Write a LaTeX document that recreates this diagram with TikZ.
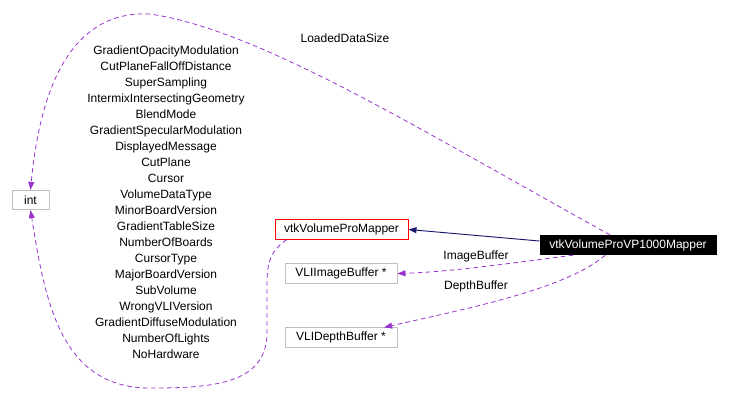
\documentclass[tikz,border=0pt]{standalone}
\usepackage{fontspec}
\setmainfont{Liberation Sans}
\usetikzlibrary{arrows.meta}
\definecolor{usepurple}{HTML}{9A32CD}
\definecolor{inhnavy}{HTML}{191970}
\definecolor{boxgray}{HTML}{BFBFBF}
\tikzset{
  cls/.style={draw=boxgray, line width=0.7pt, inner sep=0pt, minimum height=14.5pt,
    font=\fontsize{9}{11}\selectfont},
  refcls/.style={cls, draw=red},
  maincls/.style={cls, fill=black, draw=black, text=white},
  lbl/.style={font=\fontsize{9}{12}\selectfont, inner sep=0pt, align=center},
  usearrow/.style={-{Triangle[length=6pt,width=4.5pt]}, draw=usepurple,
    line width=0.6pt, dash pattern=on 3.5pt off 2.5pt},
  inharrow/.style={-{Triangle[length=6pt,width=4.5pt]}, draw=inhnavy,
    line width=0.7pt}
}
\begin{document}
\begin{tikzpicture}[x=0.75pt, y=-0.75pt]
  \useasboundingbox (0,0) rectangle (730,405);
  % classes
  \node[cls, minimum width=27.75pt] (int) at (30.5,200) {int};
  \node[refcls, minimum width=99.75pt] (pm) at (341.5,229.5) {vtkVolumeProMapper};
  \node[cls, minimum width=84pt] (img) at (341,273.5) {VLIImageBuffer *};
  \node[cls, minimum width=84pt] (dep) at (341,337.5) {VLIDepthBuffer *};
  \node[maincls, minimum width=132pt] (vp) at (628,245) {vtkVolumeProVP1000Mapper};

  % member labels
  \node[lbl] (attrs) at (166,202) {GradientOpacityModulation\\CutPlaneFallOffDistance\\
    SuperSampling\\IntermixIntersectingGeometry\\BlendMode\\GradientSpecularModulation\\
    DisplayedMessage\\CutPlane\\Cursor\\VolumeDataType\\MinorBoardVersion\\
    GradientTableSize\\NumberOfBoards\\CursorType\\MajorBoardVersion\\SubVolume\\
    WrongVLIVersion\\GradientDiffuseModulation\\NumberOfLights\\NoHardware};
  \node[lbl] (lds) at (345,38) {LoadedDataSize};
  \node[lbl] (imgl) at (476,256) {ImageBuffer};
  \node[lbl] (depl) at (476,286) {DepthBuffer};

  % edges
  \draw[inharrow] ([yshift=3pt]vp.west) -- (pm.east);
  \draw[usearrow] ([xshift=-13.5pt]vp.north) .. controls (420,130) and (260,30) .. (150,14)
    .. controls (70,10) and (40,90) .. (int.north);
  \draw[usearrow] ([xshift=9pt]pm.south west) .. controls (265,255) and (267,270) .. (267,300)
    -- (267,335) .. controls (265,385) and (210,388) .. (150,388)
    .. controls (60,388) and (45,300) .. (int.south);
  \draw[usearrow] ([xshift=-41pt]vp.south) .. controls (520,262) and (450,272) .. (img.east);
  \draw[usearrow] ([xshift=-17pt]vp.south) .. controls (565,290) and (460,310) .. ([xshift=-10pt]dep.north east);
\end{tikzpicture}
\end{document}
